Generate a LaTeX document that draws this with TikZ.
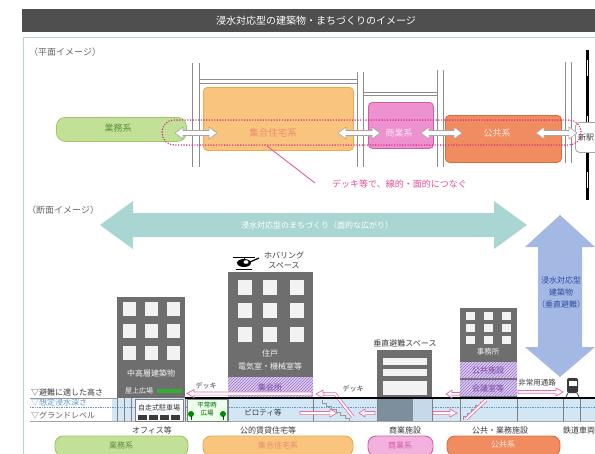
\documentclass[tikz,border=0pt]{standalone}
\usepackage{fontspec}
\setmainfont{Noto Sans CJK JP}
\usetikzlibrary{patterns,calc}

\definecolor{titlebg}{HTML}{4F4F4F}
\definecolor{framec}{HTML}{B9D3D3}
\definecolor{roadc}{HTML}{8C8C8C}
\definecolor{labgray}{HTML}{666666}
\definecolor{grnf}{HTML}{C2E196}
\definecolor{grnd}{HTML}{9CC86C}
\definecolor{grnt}{HTML}{5F8F3C}
\definecolor{orgf}{HTML}{F8C47E}
\definecolor{orgd}{HTML}{F2A64C}
\definecolor{orgt}{HTML}{E98E6E}
\definecolor{pnkf}{HTML}{EE91CF}
\definecolor{pnkd}{HTML}{D65AAB}
\definecolor{pnkt}{HTML}{FCE4F3}
\definecolor{redf}{HTML}{F18C60}
\definecolor{redd}{HTML}{E06A3C}
\definecolor{redt}{HTML}{FDE8DC}
\definecolor{dotc}{HTML}{D4238C}
\definecolor{msgc}{HTML}{E44D9C}
\definecolor{tealc}{HTML}{A9D6D2}
\definecolor{bluec}{HTML}{A3B9E4}
\definecolor{bluet}{HTML}{2F4D9E}
\definecolor{bldc}{HTML}{6E6E6E}
\definecolor{winc}{HTML}{F2F2F2}
\definecolor{hatchf}{HTML}{DCCBEF}
\definecolor{hatchl}{HTML}{9A72C8}
\definecolor{hatcht}{HTML}{7A4AA8}
\definecolor{floodc}{HTML}{D3E6F4}
\definecolor{floodl}{HTML}{5F95D0}
\definecolor{pinkar}{HTML}{EA6AA8}
\definecolor{textdk}{HTML}{3A3A3A}
\definecolor{groundA}{HTML}{7D8E9C}
\definecolor{groundB}{HTML}{C5D9EA}

\newcommand\jsz[1]{\fontsize{#1}{#1}\selectfont}
% double-headed arrow: [style] x1 x2 y shaft-half head-half head-length
\newcommand\dblarrow[7][]{%
  \path[#1] (#2,#4) -- ({#2+#7},{#4-#6}) -- ({#2+#7},{#4-#5}) -- ({#3-#7},{#4-#5})
    -- ({#3-#7},{#4-#6}) -- (#3,#4) -- ({#3-#7},{#4+#6}) -- ({#3-#7},{#4+#5})
    -- ({#2+#7},{#4+#5}) -- ({#2+#7},{#4+#6}) -- cycle;}
% single arrow: [style] tail head y shaft-half head-half signed-head-length
\newcommand\onearrow[7][]{%
  \path[#1] (#2,{#4-#5}) -- ({#3-(#7)},{#4-#5}) -- ({#3-(#7)},{#4-#6}) -- (#3,#4)
    -- ({#3-(#7)},{#4+#6}) -- ({#3-(#7)},{#4+#5}) -- (#2,{#4+#5}) -- cycle;}

\tikzset{
  txt/.style={inner sep=0pt, font=\jsz{#1}},
  txt/.default=8,
  road/.style={draw=roadc, line width=0.7pt},
  zone/.style={rounded corners=4pt, line width=0.8pt, inner sep=0pt, anchor=north west},
  pill/.style={rounded corners=8pt, line width=0.9pt},
  whitearrow/.style={fill=white, draw=gray!70, line width=0.6pt},
  pinkarrow/.style={fill=white, draw=pinkar, line width=0.7pt},
  hatch/.style={pattern=north east lines, pattern color=hatchl},
}

\begin{document}
\begin{tikzpicture}[x=1pt,y=-1pt]
\useasboundingbox (0,0) rectangle (595,453);
\clip (0,0) rectangle (595,453);
\fill[white] (0,0) rectangle (595,453);

% ---------- heading ----------
\fill[titlebg] (22,9) rectangle (595,32);
\node[txt=10, text=white] (title) at (316,21) {浸水対応型の建築物・まちづくりのイメージ};
\draw[framec, line width=0.8pt] (23,455) -- (23,37) -- (596,37);

% ---------- plan view ----------
\node[txt=9, text=labgray, anchor=west] (planlbl) at (29,52) {（平面イメージ）};

% streets
\draw[road] (192,63) -- (192,167) (199,63) -- (199,167)
            (357,72) -- (357,167) (363,72) -- (363,167)
            (437,70) -- (437,167) (443,70) -- (443,167)
            (565,62) -- (565,163) (571,62) -- (571,163);
\draw[road] (199,79) -- (357,79) (199,83) -- (357,83)
            (363,92) -- (437,92) (363,95) -- (437,95);
% railway
\draw[black, line width=3pt] (587,50) -- (587,200);
\draw[white, line width=1pt, dash pattern=on 16pt off 40pt] (587,60) -- (587,200);

% land-use blocks
\node[zone, fill=grnf, draw=grnd, rounded corners=9pt, minimum width=130pt, minimum height=24pt] (pgreen) at (56,117) {};
\node[zone, fill=orgf, draw=orgd, minimum width=150pt, minimum height=63pt] (porange) at (203,87) {};
\node[zone, fill=pnkf, draw=pnkd, minimum width=65pt, minimum height=46pt] (ppink) at (368,102) {};
\node[zone, fill=redf, draw=redd, minimum width=116pt, minimum height=47pt] (pred) at (445,115) {};
\node[zone, fill=white, draw=gray!70, minimum width=30pt, minimum height=30pt] (station) at (575,122) {};
\node[txt=8, text=textdk] (stationlbl) at (586,137) {新駅};

\node[txt=9, text=grnt] (pgreenlbl) at (118,128) {業務系};
\node[txt=9.5, text=orgt] (porangelbl) at (273,133) {集合住宅系};
\node[txt=9, text=pnkt] (ppinklbl) at (399,133) {商業系};
\node[txt=9, text=redt] (predlbl) at (497,133) {公共系};

% deck link ring
\draw[dotc, line width=1.5pt, dash pattern=on 0.1pt off 2.6pt, line cap=round, rounded corners=12pt]
  (162,120) rectangle (581,145);

% links between blocks
\dblarrow[whitearrow]{175}{217}{133}{2.5}{6}{8}
\dblarrow[whitearrow]{338}{380}{133}{2.5}{6}{8}
\dblarrow[whitearrow]{421}{462}{133}{2.5}{6}{8}
\dblarrow[whitearrow]{536}{577}{133}{2.5}{6}{8}

\coordinate (leadA) at (267,146);
\node[txt=9, text=msgc, anchor=west] (deckmsg) at (332,184) {デッキ等で、線的・面的につなぐ};
\draw[msgc, line width=0.8pt] (leadA) -- ([xshift=-17pt,yshift=1pt]deckmsg.west);

% ---------- section view ----------
\node[txt=9, text=labgray, anchor=west] (seclbl) at (27,210) {（断面イメージ）};

% horizontal spread
\dblarrow[fill=tealc]{100}{527}{225}{12}{24}{33}
\node[txt=8, text=white] (spread) at (317,225) {浸水対応型のまちづくり（面的な広がり）};

% vertical evacuation
\path[fill=bluec] (560,215) -- (595,247) -- (582,247) -- (582,347) -- (595,347) -- (560,377)
  -- (525,347) -- (538,347) -- (538,247) -- (525,247) -- cycle;
\node[txt=8, text=bluet, align=center, font=\fontsize{8}{12}\selectfont] (vert) at (561,293)
  {浸水対応型\\建築物\\（垂直避難）};

% flood band and levels
\fill[floodc] (112,398) rectangle (596,421);
\draw[gray!80, line width=0.5pt] (30,398) -- (117,398);
\draw[floodl, line width=0.7pt, densely dotted] (30,407) -- (596,407);
\draw[gray!70, line width=0.6pt] (30,421) -- (596,421);
\node[txt=8, text=textdk, anchor=west] (lvA) at (31,392) {▽避難に適した高さ};
\node[txt=8, text=floodl, anchor=west] (lvB) at (31,402) {▽想定浸水深さ};
\node[txt=8, text=textdk!80, anchor=west] (lvC) at (31,415) {▽グランドレベル};

% mid/high-rise office building
\fill[bldc] (117,297) rectangle (185,398);
\foreach \cx in {123,145,167}
  \foreach \ry in {302,324,346}
    \fill[winc] (\cx,\ry) rectangle ++(13,14);
\node[txt=8, text=winc] (highrise) at (151,373) {中高層建築物};
\node[txt=7, text=winc] (roofplaza) at (139,391) {屋上広場};
\fill[green!60!black!80] (157,389) rectangle (182,393);
% its ground floor: parking
\draw[gray, line width=0.5pt] (117,398) -- (117,421) (124,398) -- (124,421) (131,398) -- (131,421) (185,398) -- (185,421);
\draw[gray, fill=white!85!floodc, line width=0.5pt] (135,399) rectangle (183,421);
\node[txt=7, text=textdk] (parking) at (159,408) {自走式駐車場};
\foreach \cx in {138,149,160,171}
  \fill[textdk] (\cx,415) rectangle ++(9,5);

% public plaza at grade
\draw[gray, fill=green!8, line width=0.5pt] (187,399) rectangle (227,421);
\node[txt=6.5, text=green!40!black, align=center, font=\fontsize{6.5}{8}\selectfont] (plaza) at (207,409) {平常時\\広場};
\foreach \cx in {191,223}{
  \fill[green!55!black] (\cx,414) circle (3);
  \fill[green!30!black] (\cx-0.5,416) rectangle ++(1,4);}

% public rental housing
\fill[bldc] (228,272) rectangle (313,398);
\foreach \cx in {238,263,290}
  \foreach \ry in {280,303,327}
    \fill[winc] (\cx,\ry) rectangle ++(14,15);
\node[txt=8, text=winc] (dwell) at (270,353) {住戸};
\node[txt=8, text=winc] (plant) at (270,366) {電気室・機械室等};
\fill[hatchf] (228,377) rectangle (313,397);
\fill[hatch] (228,377) rectangle (313,397);
\node[txt=8, text=hatcht] (hall) at (270,387) {集会所};
\node[txt=7.5, text=textdk] (piloti) at (263,413) {ピロティ等};
\draw[gray, line width=0.5pt] (228,398) -- (228,421) (313,398) -- (313,421);

% hovering space with helicopter
\fill[black] (244,263) ellipse (7 and 4);
\fill[white] (246,262) ellipse (2.5 and 1.8);
\draw[black, line width=1.2pt] (250,262) -- (259,258);
\draw[black, line width=0.8pt] (233,257) -- (255,257) (244,257) -- (244,260);
\draw[black, line width=0.8pt] (236,269) -- (252,269);
\node[txt=8, text=textdk, align=center, font=\fontsize{8}{10}\selectfont] (hover) at (284,260) {ホバリング\\スペース};

% vertical refuge space
\node[txt=8, text=textdk] (refuge) at (405,343) {垂直避難スペース};
\fill[bldc] (377,350) rectangle (432,398);
\fill[winc] (383,358) rectangle (427,365);
\fill[winc] (383,369) rectangle (427,376);
\fill[winc] (383,381) rectangle (427,395);
\fill[groundA] (377,398) rectangle (413,421);
\fill[groundB] (413,398) rectangle (432,421);
\draw[gray, line width=0.5pt] (377,398) -- (377,421) (432,398) -- (432,421);

% public / office building
\fill[bldc] (460,308) rectangle (517,398);
\foreach \cx in {466,484,502}
  \foreach \ry in {312,324,336}
    \fill[winc] (\cx,\ry) rectangle ++(9,8);
\node[txt=7.5, text=winc] (office) at (488,352) {事務所};
\fill[hatchf] (460,362) rectangle (517,378);
\fill[hatch] (460,362) rectangle (517,378);
\fill[hatchf] (460,380) rectangle (517,396);
\fill[hatch] (460,380) rectangle (517,396);
\node[txt=8, text=hatcht] (pubfac) at (488,370) {公共施設};
\node[txt=8, text=hatcht] (meeting) at (488,388) {会議室等};
\draw[gray, line width=0.5pt] (460,398) -- (460,421) (517,398) -- (517,421) (563,398) -- (563,421) (580,398) -- (580,421);

% escalators / stairs down to grade
\foreach \s in {0,...,6}
  \draw[gray!80, line width=0.5pt] ({322+\s*4.6},{400+\s*3}) -- ++(0,3) -- ++(4.6,0);
\foreach \s in {0,...,5}
  \draw[gray!80, line width=0.5pt] ({463+\s*4.2},{420-\s*3.6}) -- ++(0,-3.6) -- ++(4.2,0);
\draw[pinkar, line width=3.4pt, line join=round] (324,394) -- (335,394) -- (353,417);
\draw[white, line width=1.8pt, line join=round] (324,394) -- (335,394) -- (353,417);
\onearrow[pinkarrow]{324}{316}{394}{1.6}{4}{-7}
\draw[pinkar, line width=3.4pt] (466,419) -- (486,400);
\draw[white, line width=1.8pt] (466,419) -- (486,400);

% deck level
\draw[black, line width=1.3pt] (185,398) -- (596,398);
\node[txt=7, text=textdk] (deckA) at (206,386) {デッキ};
\node[txt=7, text=textdk] (deckB) at (353,389) {デッキ};
\onearrow[pinkarrow]{312}{187}{393.5}{1.6}{4}{-7}
\onearrow[pinkarrow]{460}{446}{394}{1.6}{4}{-6}
\node[txt=7.5, text=textdk] (emerg) at (537,383) {非常用通路};
\onearrow[pinkarrow]{518}{563}{392}{1.6}{4}{7}

% flows at grade
\onearrow[pinkarrow]{300}{337}{413}{1.6}{4}{7}
\onearrow[pinkarrow]{375}{359}{413}{1.6}{4}{-6}
\onearrow[pinkarrow]{433}{457}{413}{1.6}{4}{7}

% train
\fill[textdk, rounded corners=2pt] (567,378) rectangle (578,393);
\fill[white] (568.5,381) rectangle (576.5,386);
\draw[textdk, line width=0.8pt] (568,393) -- (566,397) (577,393) -- (579,397);

% captions
\node[txt=8, text=textdk] (capA) at (152,430) {オフィス等};
\node[txt=8, text=textdk] (capB) at (268,430) {公的賃貸住宅等};
\node[txt=8, text=textdk] (capC) at (405,430) {商業施設};
\node[txt=8, text=textdk] (capD) at (500,430) {公共・業務施設};
\node[txt=8, text=textdk, anchor=west] (capE) at (563,430) {鉄道車両};

% land-use legend
\draw[pill, fill=grnf, draw=grnd] (55,436) rectangle (188,456);
\draw[pill, fill=orgf, draw=orgd] (203,436) rectangle (353,456);
\draw[pill, fill=pnkf!70!white, draw=pnkd] (368,436) rectangle (433,456);
\draw[pill, fill=redf, draw=redd] (447,436) rectangle (560,456);
\node[txt=8, text=grnt] (legA) at (121,445) {業務系};
\node[txt=8, text=orgt] (legB) at (278,445) {集合住宅系};
\node[txt=8, text=pnkd] (legC) at (400,445) {商業系};
\node[txt=8, text=redt] (legD) at (503,445) {公共系};
\end{tikzpicture}
\end{document}
